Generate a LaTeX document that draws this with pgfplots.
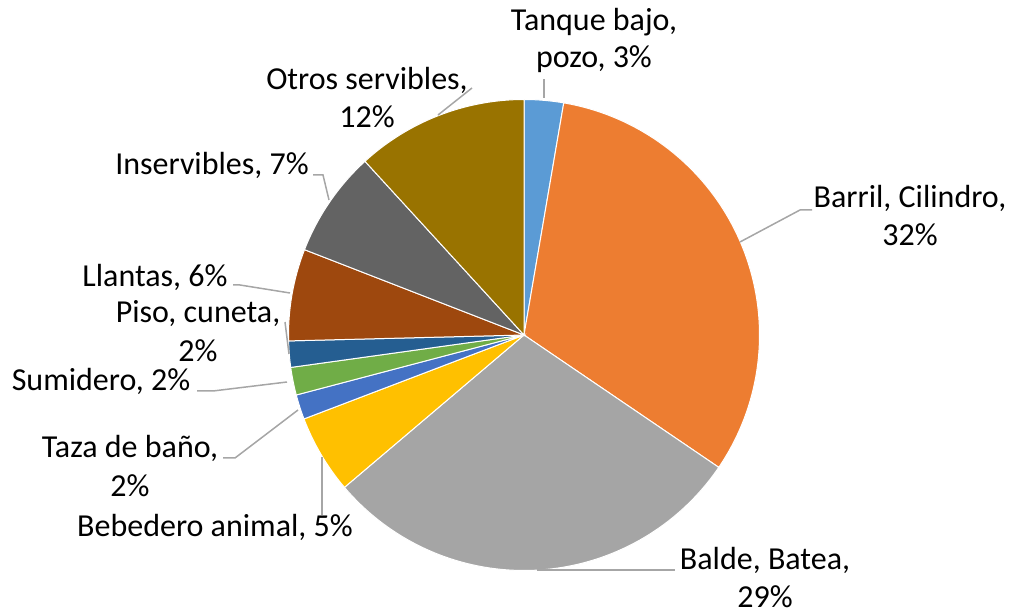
\documentclass[border=0pt]{standalone}
\usepackage{pgfplots}
\pgfplotsset{compat=1.18}
\usepackage{pgfplotstable}
\usepackage{fontspec}
\setmainfont{Carlito}
\definecolor{c1}{HTML}{5B9BD5}
\definecolor{c2}{HTML}{ED7D31}
\definecolor{c3}{HTML}{A5A5A5}
\definecolor{c4}{HTML}{FFC000}
\definecolor{c5}{HTML}{4472C4}
\definecolor{c6}{HTML}{70AD47}
\definecolor{c7}{HTML}{255E91}
\definecolor{c8}{HTML}{9E480E}
\definecolor{c9}{HTML}{636363}
\definecolor{c10}{HTML}{997300}
\definecolor{lead}{HTML}{A6A6A6}
\pgfplotstableread{
label value color
Tanque 2.7 c1
Barril 31.8 c2
Balde 29.3 c3
Bebedero 5.4 c4
Taza 1.7 c5
Sumidero 1.9 c6
Piso 1.8 c7
Llantas 6.3 c8
Inservibles 7.3 c9
Otros 11.8 c10
}\piedata
\begin{document}
\begin{tikzpicture}[lbl/.style={anchor=base,inner sep=0pt,font=\fontsize{16}{19}\selectfont},
  ldr/.style={draw=lead,line width=0.75pt}]
\begin{axis}[width=506pt,height=306.5pt,scale only axis,
  xmin=0,xmax=1012,ymin=0,ymax=613,y dir=reverse,hide axis,clip=false]
\path (rel axis cs:0,0) rectangle (rel axis cs:1,1);
\pgfplotstablegetrowsof{\piedata}
\pgfmathtruncatemacro{\N}{\pgfplotsretval-1}
\def\cum{0}
\pgfplotsforeachungrouped \i in {0,...,\N}{%
  \pgfplotstablegetelem{\i}{value}\of\piedata \let\v\pgfplotsretval
  \pgfplotstablegetelem{\i}{color}\of\piedata \let\c\pgfplotsretval
  \pgfmathsetmacro{\a}{90-3.6*\cum}%
  \pgfmathsetmacro{\b}{90-3.6*(\cum+\v)}%
  \edef\temp{\noexpand\filldraw[fill=\c,draw=white,line width=0.5pt]
    (axis cs:524,335) -- ++(\a:117.75pt) arc[start angle=\a,end angle=\b,radius=117.75pt] -- cycle;}%
  \temp
  \pgfmathsetmacro{\cum}{\cum+\v}%
}
% leader lines
\draw[ldr] (axis cs:544,98) -- (axis cs:544,79);
\draw[ldr] (axis cs:740,242) -- (axis cs:800,210) -- (axis cs:812,210);
\draw[ldr] (axis cs:537,570) -- (axis cs:675,570);
\draw[ldr] (axis cs:322,457) -- (axis cs:322,515);
\draw[ldr] (axis cs:298,410) -- (axis cs:235,458) -- (axis cs:223,458);
\draw[ldr] (axis cs:287,382) -- (axis cs:213,391) -- (axis cs:197,391);
\draw[ldr] (axis cs:289,354) -- (axis cs:285,322);
\draw[ldr] (axis cs:290,293) -- (axis cs:240,285) -- (axis cs:233,285);
\draw[ldr] (axis cs:329,200) -- (axis cs:323,175) -- (axis cs:313,175);
\draw[ldr] (axis cs:438,115) -- (axis cs:472,88);
% labels
\node[lbl] at (axis cs:594,31) {Tanque bajo,};
\node[lbl] at (axis cs:594,68) {pozo, 3\%};
\node[lbl] at (axis cs:910,208) {Barril, Cilindro,};
\node[lbl] at (axis cs:910,246) {32\%};
\node[lbl] at (axis cs:765,570) {Balde, Batea,};
\node[lbl] at (axis cs:765,608) {29\%};
\node[lbl] at (axis cs:215,537) {Bebedero animal, 5\%};
\node[lbl] at (axis cs:130,458) {Taza de baño,};
\node[lbl] at (axis cs:130,497) {2\%};
\node[lbl] at (axis cs:101,391) {Sumidero, 2\%};
\node[lbl] at (axis cs:198,323) {Piso, cuneta,};
\node[lbl] at (axis cs:198,362) {2\%};
\node[lbl] at (axis cs:155,287) {Llantas, 6\%};
\node[lbl] at (axis cs:212,175) {Inservibles, 7\%};
\node[lbl] at (axis cs:367,90) {Otros servibles,};
\node[lbl] at (axis cs:367,128) {12\%};
\end{axis}
\end{tikzpicture}
\end{document}
